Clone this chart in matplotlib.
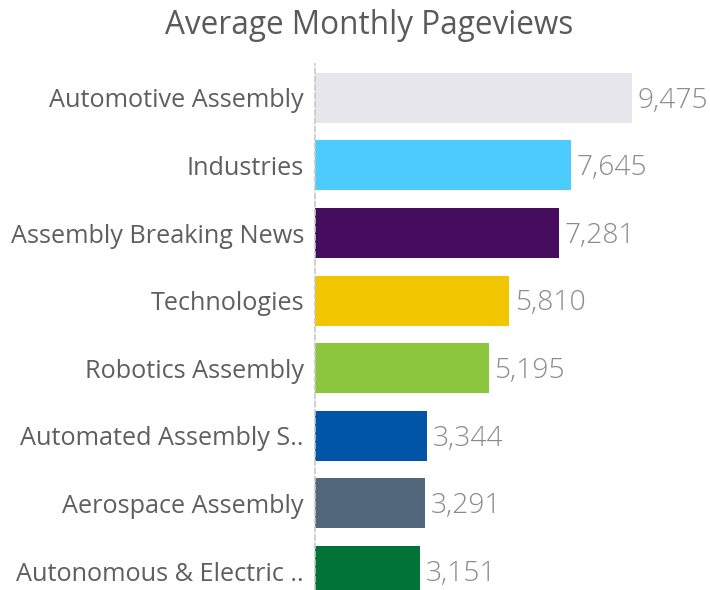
import matplotlib
matplotlib.use("Agg")
import matplotlib.pyplot as plt

categories = ["Automotive Assembly", "Industries", "Assembly Breaking News",
              "Technologies", "Robotics Assembly", "Automated Assembly S..",
              "Aerospace Assembly", "Autonomous & Electric .."]
pageviews = [9475, 7645, 7281, 5810, 5195, 3344, 3291, 3151]
colors = ["#E6E6EC", "#4BCBFE", "#460C5E", "#F1C500", "#8CC63F",
          "#0055A6", "#52677B", "#007436"]

plt.rcParams['font.family'] = ['Open Sans', 'DejaVu Sans']

fig = plt.figure(figsize=(7.1, 5.9), dpi=100)
ax = fig.add_axes([315 / 710, 0, 395 / 710, (590 - 64) / 590])

pos = list(range(len(categories)))
ax.barh(pos, pageviews, height=0.74, color=colors)
ax.set_ylim(7.28, -0.5)
ax.set_xlim(0, 11806)

# value labels sit a touch below bar centre, as in the original
for p, v in zip(pos, pageviews):
    ax.text(v + 170, p + 0.04, f"{v:,}", va='center', ha='left', fontsize=20.3,
            color='#8c8c8c', fontweight=300)

ax.set_yticks(pos)
ax.set_yticklabels(categories, fontsize=18.2, color='#5f5f5f',
                   va='center_baseline')
ax.tick_params(axis='y', length=0, pad=8)
ax.set_xticks([])
for s in ['top', 'right', 'bottom']:
    ax.spines[s].set_visible(False)
ax.spines['left'].set_linestyle((0, (3, 2)))
ax.spines['left'].set_color('#c8c8c8')
ax.spines['left'].set_linewidth(1.2)

fig.text(369 / 710, 1 - 26 / 590, "Average Monthly Pageviews", ha='center',
         va='center', fontsize=22.7, color='#5a5a5a')

fig.savefig("out.png", dpi=100)
